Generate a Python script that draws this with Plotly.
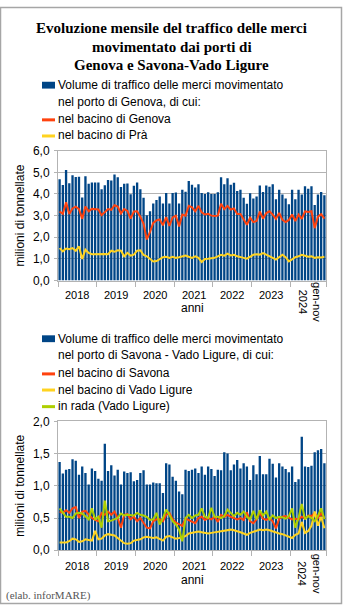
import plotly.graph_objects as go

W, H = 343, 612

# --- data (milioni di tonnellate), gen 2018 - nov 2024 ---
mesi = ["gen", "feb", "mar", "apr", "mag", "giu", "lug", "ago", "set", "ott", "nov", "dic"]
months = [f"{m} {y}" for y in range(2018, 2025) for m in mesi][:83]

genova_totale = [
    4.68, 4.41, 5.11, 4.50, 4.86, 4.78, 4.80, 3.84, 4.82, 4.47, 4.53, 4.53,
    4.53, 4.22, 4.40, 4.64, 4.62, 4.90, 4.77, 4.32, 4.47, 4.48, 3.99, 4.38,
    4.53, 4.22, 3.82, 3.02, 3.20, 3.56, 3.72, 3.88, 3.56, 4.05, 3.56, 4.04,
    4.07, 3.56, 4.20, 4.10, 4.60, 4.42, 4.30, 4.45, 4.05, 4.00, 4.08, 4.00,
    4.00, 4.08, 4.77, 4.45, 4.72, 4.42, 4.52, 4.14, 4.20, 3.83, 3.55, 4.03,
    3.79, 3.88, 4.39, 4.09, 4.39, 4.33, 4.45, 3.76, 4.20, 3.98, 3.79, 3.53,
    4.20, 3.76, 4.20, 3.98, 4.36, 4.24, 4.36, 3.49, 3.98, 4.09, 3.94]
genova_bacino = [
    3.19, 3.08, 3.62, 3.08, 3.33, 3.41, 3.30, 2.85, 3.42, 3.20, 3.31, 3.30,
    3.28, 3.02, 3.15, 3.30, 3.27, 3.48, 3.42, 3.10, 3.30, 3.22, 2.86, 3.19,
    3.20, 2.95, 2.62, 1.90, 2.25, 2.66, 2.78, 2.82, 2.55, 2.93, 2.53, 2.92,
    3.00, 2.50, 3.05, 3.00, 3.45, 3.38, 3.20, 3.45, 3.15, 3.05, 3.08, 3.00,
    2.98, 3.00, 3.55, 3.30, 3.45, 3.28, 3.33, 3.08, 3.08, 2.82, 2.58, 2.90,
    2.70, 2.75, 3.19, 2.86, 3.12, 3.20, 3.05, 2.85, 3.12, 2.80, 2.70, 2.80,
    3.05, 2.75, 3.05, 2.85, 3.20, 3.17, 3.20, 2.42, 2.95, 3.07, 2.86]
genova_pra = [
    1.50, 1.35, 1.48, 1.45, 1.50, 1.38, 1.58, 1.00, 1.43, 1.28, 1.22, 1.23,
    1.22, 1.22, 1.23, 1.22, 1.38, 1.33, 1.40, 1.38, 1.12, 1.28, 1.15, 1.20,
    1.38, 1.40, 1.18, 1.12, 1.00, 0.88, 0.90, 1.00, 1.08, 1.10, 1.05, 1.10,
    1.05, 1.08, 1.12, 1.16, 1.10, 1.05, 1.12, 1.05, 0.86, 1.00, 1.01, 1.02,
    1.05, 1.12, 1.19, 1.15, 1.24, 1.16, 1.19, 1.12, 1.10, 1.05, 1.01, 1.10,
    1.19, 1.22, 1.20, 1.27, 1.20, 1.15, 1.05, 0.97, 1.10, 1.19, 1.08, 0.89,
    0.98, 1.08, 1.12, 1.19, 1.15, 1.10, 1.12, 1.05, 1.08, 1.07, 1.10]

savona_totale = [
    1.37, 1.19, 1.25, 1.26, 1.41, 1.39, 1.17, 1.30, 1.20, 1.02, 1.27, 1.23,
    1.11, 1.08, 1.65, 1.23, 1.32, 1.16, 1.25, 1.02, 1.22, 1.20, 1.21, 1.07,
    1.09, 1.20, 1.24, 1.02, 1.02, 1.05, 1.04, 1.04, 0.89, 1.35, 1.33, 1.14,
    1.08, 0.91, 0.87, 1.25, 1.23, 1.25, 1.27, 1.20, 1.30, 1.17, 1.30, 1.26,
    1.15, 1.25, 1.24, 1.52, 1.50, 1.24, 1.33, 1.40, 1.27, 1.35, 1.30, 1.09,
    1.32, 1.18, 1.46, 1.18, 1.18, 1.42, 1.34, 1.13, 1.35, 1.30, 1.26, 1.21,
    1.30, 1.06, 1.10, 1.76, 1.30, 1.29, 1.31, 1.52, 1.55, 1.57, 1.35]
savona_bacino = [
    0.60, 0.58, 0.62, 0.58, 0.65, 0.67, 0.50, 0.60, 0.61, 0.55, 0.50, 0.47,
    0.45, 0.58, 0.55, 0.60, 0.55, 0.60, 0.50, 0.35, 0.55, 0.56, 0.48, 0.52,
    0.45, 0.50, 0.42, 0.35, 0.34, 0.45, 0.48, 0.48, 0.45, 0.55, 0.58, 0.48,
    0.43, 0.40, 0.38, 0.49, 0.47, 0.45, 0.42, 0.50, 0.52, 0.47, 0.50, 0.48,
    0.52, 0.44, 0.55, 0.52, 0.55, 0.52, 0.50, 0.48, 0.50, 0.47, 0.59, 0.45,
    0.42, 0.48, 0.58, 0.49, 0.47, 0.50, 0.45, 0.34, 0.49, 0.52, 0.53, 0.50,
    0.48, 0.49, 0.48, 0.52, 0.49, 0.54, 0.53, 0.58, 0.50, 0.57, 0.50]
vado_bacino = [
    0.12, 0.12, 0.12, 0.14, 0.18, 0.17, 0.13, 0.14, 0.17, 0.16, 0.15, 0.30,
    0.17, 0.18, 0.23, 0.25, 0.24, 0.23, 0.19, 0.15, 0.11, 0.10, 0.11, 0.15,
    0.16, 0.17, 0.20, 0.21, 0.20, 0.19, 0.20, 0.18, 0.15, 0.21, 0.22, 0.20,
    0.18, 0.19, 0.21, 0.22, 0.26, 0.27, 0.29, 0.29, 0.28, 0.27, 0.26, 0.27,
    0.28, 0.29, 0.30, 0.31, 0.31, 0.32, 0.31, 0.30, 0.28, 0.26, 0.24, 0.27,
    0.29, 0.31, 0.32, 0.31, 0.32, 0.31, 0.29, 0.27, 0.26, 0.25, 0.23, 0.20,
    0.19, 0.24, 0.26, 0.44, 0.27, 0.30, 0.38, 0.60, 0.38, 0.52, 0.34]
vado_rada = [
    0.65, 0.58, 0.52, 0.52, 0.50, 0.57, 0.58, 0.57, 0.52, 0.48, 0.65, 0.48,
    0.52, 0.35, 0.77, 0.45, 0.46, 0.48, 0.50, 0.57, 0.54, 0.55, 0.55, 0.54,
    0.58, 0.55, 0.54, 0.52, 0.47, 0.48, 0.58, 0.40, 0.50, 0.63, 0.55, 0.45,
    0.40, 0.32, 0.14, 0.50, 0.55, 0.50, 0.54, 0.55, 0.65, 0.52, 0.50, 0.66,
    0.52, 0.52, 0.50, 0.53, 0.63, 0.58, 0.53, 0.58, 0.55, 0.60, 0.52, 0.48,
    0.61, 0.48, 0.62, 0.54, 0.60, 0.48, 0.54, 0.50, 0.52, 0.51, 0.49, 0.53,
    0.65, 0.35, 0.50, 0.72, 0.48, 0.53, 0.50, 0.45, 0.53, 0.65, 0.48]

year_labels = ["2018", "2019", "2020", "2021", "2022", "2023"]
last_year_label = "gen-nov<br>2024"
y_ticks_top = [0, 1, 2, 3, 4, 5, 6]
y_ticks_bottom = [0, 0.5, 1.0, 1.5, 2.0]

title_lines = ["Evoluzione mensile del traffico delle merci",
               "movimentato dai porti di",
               "Genova e Savona-Vado Ligure"]
legend_genova = [["Volume di traffico delle merci movimentato", "nel porto di Genova, di cui:"],
                 ["nel bacino di Genova"], ["nel bacino di Prà"]]
legend_savona = [["Volume di traffico delle merci movimentato",
                  "nel porto di Savona - Vado Ligure, di cui:"],
                 ["nel bacino di Savona"], ["nel bacino di Vado Ligure"],
                 ["in rada (Vado Ligure)"]]

# --- style ---
BLUE, RED, YELLOW, GREEN = "#004586", "#ff420e", "#ffd320", "#aecf00"
GRID = "#b3b3b3"
SANS = "Liberation Sans, Arial, sans-serif"
SERIF = "Liberation Serif, Times New Roman, serif"


def px_x(v):
    return v / W


def px_y(v):
    return 1 - v / H


x = list(range(len(months)))
n = len(months)
boundaries = [i * 12 - 0.5 for i in range(7)] + [n - 0.5]

fig = go.Figure()

# upper panel: Genova
fig.add_trace(go.Bar(x=x, y=genova_totale, marker=dict(color=BLUE, line=dict(width=0)),
                     name=" ".join(legend_genova[0]), xaxis="x", yaxis="y", customdata=months,
                     hovertemplate="%{customdata}: %{y:.2f}<extra></extra>"))
fig.add_trace(go.Scatter(x=x, y=genova_bacino, mode="lines", line=dict(color=RED, width=2),
                         name=legend_genova[1][0], xaxis="x", yaxis="y"))
fig.add_trace(go.Scatter(x=x, y=genova_pra, mode="lines", line=dict(color=YELLOW, width=2),
                         name=legend_genova[2][0], xaxis="x", yaxis="y"))

# lower panel: Savona - Vado Ligure
fig.add_trace(go.Bar(x=x, y=savona_totale, marker=dict(color=BLUE, line=dict(width=0)),
                     name=" ".join(legend_savona[0]), xaxis="x2", yaxis="y2", customdata=months,
                     hovertemplate="%{customdata}: %{y:.2f}<extra></extra>"))
fig.add_trace(go.Scatter(x=x, y=savona_bacino, mode="lines", line=dict(color=RED, width=2),
                         name=legend_savona[1][0], xaxis="x2", yaxis="y2"))
fig.add_trace(go.Scatter(x=x, y=vado_bacino, mode="lines", line=dict(color=YELLOW, width=2),
                         name=legend_savona[2][0], xaxis="x2", yaxis="y2"))
fig.add_trace(go.Scatter(x=x, y=vado_rada, mode="lines", line=dict(color=GREEN, width=2),
                         name=legend_savona[3][0], xaxis="x2", yaxis="y2"))

xdom = [px_x(58), px_x(326)]
xcommon = dict(domain=xdom, range=[-0.5, n - 0.5], tickmode="array", tickvals=boundaries,
               ticks="outside", ticklen=5, tickcolor=GRID, showticklabels=False,
               showline=True, linecolor=GRID, linewidth=1, mirror=True,
               showgrid=False, zeroline=False, fixedrange=True)
ycommon = dict(ticks="outside", ticklen=3, tickcolor=GRID, tickformat=".1f",
               tickfont=dict(family=SANS, size=12, color="#000"),
               showline=True, linecolor=GRID, linewidth=1, mirror=True,
               showgrid=True, gridcolor=GRID, gridwidth=1, zeroline=False,
               ticklabelstandoff=2, fixedrange=True)

fig.update_layout(
    width=W, height=H, margin=dict(l=0, r=0, t=0, b=0),
    paper_bgcolor="white", plot_bgcolor="white",
    separators=",.", showlegend=False, bargap=0.28,
    xaxis=dict(**xcommon, anchor="y"),
    yaxis=dict(**ycommon, domain=[px_y(280), px_y(147)], range=[0, 6],
               tickvals=y_ticks_top, anchor="x"),
    xaxis2=dict(**xcommon, anchor="y2"),
    yaxis2=dict(**ycommon, domain=[px_y(556), px_y(424)], range=[0, 2],
                tickvals=y_ticks_bottom, anchor="x2"),
)

ann = []
shapes = []


def text(t, xp, yp, size=12, family=SANS, anchor="left", angle=0, color="#000"):
    ann.append(dict(text=t, x=px_x(xp), y=px_y(yp), xref="paper", yref="paper",
                    showarrow=False, xanchor=anchor, yanchor="middle", textangle=angle,
                    align="center", borderpad=0,
                    font=dict(family=family, size=size, color=color)))


# title, one line at a time
for line, yc in zip(title_lines, [21.5, 40.5, 59.5]):
    text("<b>" + line + "</b>", W / 2, yc, size=15, family=SERIF, anchor="center")


def legend_block(entries, colors, centers):
    for i, (lines, col, yc) in enumerate(zip(entries, colors, centers)):
        for j, line in enumerate(lines):
            text(line, 56.5, yc[j], anchor="left")
        if i == 0:
            shapes.append(dict(type="rect", xref="paper", yref="paper",
                               x0=px_x(42), x1=px_x(55), y0=px_y(yc[0] + 3.5),
                               y1=px_y(yc[0] - 3.5), fillcolor=col, line=dict(width=0)))
        else:
            shapes.append(dict(type="line", xref="paper", yref="paper",
                               x0=px_x(42), x1=px_x(55), y0=px_y(yc[0] + 0.5),
                               y1=px_y(yc[0] + 0.5), line=dict(color=col, width=3)))


legend_block(legend_genova, [BLUE, RED, YELLOW], [[80, 97], [115], [131.5]])
legend_block(legend_savona, [BLUE, RED, YELLOW, GREEN],
             [[339.5, 356.5], [375], [391.5], [408.5]])


def x_labels(xref, ylab, yanni, ylast):
    for k, lab in enumerate(year_labels):
        ann.append(dict(text=lab, x=k * 12 + 5.5, y=px_y(ylab), xref=xref, yref="paper",
                        showarrow=False, xanchor="center", yanchor="middle", borderpad=0,
                        font=dict(family=SANS, size=11, color="#000")))
    text(last_year_label, 310, ylast, size=11, anchor="center", angle=90)
    text("anni", 192, yanni, size=12, anchor="center")


x_labels("x", 294.5, 308.5, 302)
x_labels("x2", 572, 586, 580)

for yc in (213.5, 490):
    text("milioni di tonnellate", 20, yc, size=12, anchor="center", angle=-90)

text("(elab. inforMARE)", 5, 602, size=11, family=SERIF, color="#555")

# outer frame
shapes.append(dict(type="rect", xref="paper", yref="paper", x0=px_x(0.5), x1=px_x(W - 1.5),
                   y0=px_y(H - 1.5), y1=px_y(0.5), line=dict(color="#a6a6a6", width=1.5)))

fig.update_layout(annotations=ann, shapes=shapes)
fig.write_html("out.html", config={"displayModeBar": False})
